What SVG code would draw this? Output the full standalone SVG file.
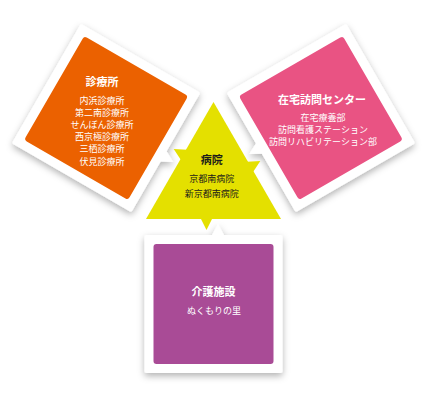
<svg xmlns="http://www.w3.org/2000/svg" width="431" height="400" viewBox="0 0 431 400">
<defs>
<style>
.t{font-family:"Noto Sans CJK JP","Noto Sans",sans-serif;text-anchor:middle}
.h{font-size:11px;font-weight:bold}
.s{font-size:9px}
.w{fill:#ffffff}
.k{fill:#1a1a1a}
.frame{fill:#ffffff}
</style>
<filter id="sh" x="-20%" y="-20%" width="140%" height="140%">
<feDropShadow dx="0" dy="3" stdDeviation="3.5" flood-color="#000" flood-opacity="0.3"/>
</filter>
<g id="frame">
<rect x="144.5" y="235" width="138" height="138" rx="2" class="frame"/>
<polygon points="211.5,236 218,224 224.5,236" class="frame"/>
</g>
<polygon id="ytab" points="200.5,218 212.5,218 206.5,230" fill="#E4E000"/>
</defs>

<g id="node-clinic">
<g filter="url(#sh)"><use href="#frame" transform="rotate(120 213.5 180)"/></g>
<rect x="153.5" y="244" width="120" height="120" rx="3" fill="#EB6100" transform="rotate(120 213.5 180)"/>
<text class="t h w" x="102" y="86">診療所</text>
<text class="t s w" x="102" y="103.5">内浜診療所</text>
<text class="t s w" x="102" y="115.7">第二南診療所</text>
<text class="t s w" x="102" y="127.9">せんぼん診療所</text>
<text class="t s w" x="102" y="140.1">西京極診療所</text>
<text class="t s w" x="102" y="152.3">三栖診療所</text>
<text class="t s w" x="102" y="164.5">伏見診療所</text>
</g>

<g id="node-home">
<g filter="url(#sh)"><use href="#frame" transform="rotate(240 213.5 180)"/></g>
<rect x="153.5" y="244" width="120" height="120" rx="3" fill="#E95383" transform="rotate(240 213.5 180)"/>
<text class="t h w" x="322" y="104.2">在宅訪問センター</text>
<text class="t s w" x="323" y="121">在宅療養部</text>
<text class="t s w" x="323" y="133">訪問看護ステーション</text>
<text class="t s w" x="323" y="145">訪問リハビリテーション部</text>
</g>

<g id="node-care">
<g filter="url(#sh)"><use href="#frame"/></g>
<rect x="153.5" y="244" width="120" height="120" rx="3" fill="#A94B96"/>
<text class="t h w" x="213.5" y="296">介護施設</text>
<text class="t s w" x="214" y="313.5">ぬくもりの里</text>
</g>

<g id="node-hospital">
<polygon points="213.5,102 281,219 146,219" fill="#E4E000"/>
<use href="#ytab"/>
<use href="#ytab" transform="rotate(120 213.5 180)"/>
<use href="#ytab" transform="rotate(240 213.5 180)"/>
<text class="t h k" x="211.7" y="164">病院</text>
<text class="t s k" x="211.7" y="181.5">京都南病院</text>
<text class="t s k" x="211.7" y="196.5">新京都南病院</text>
</g>

<g id="connectors"></g>
</svg>
